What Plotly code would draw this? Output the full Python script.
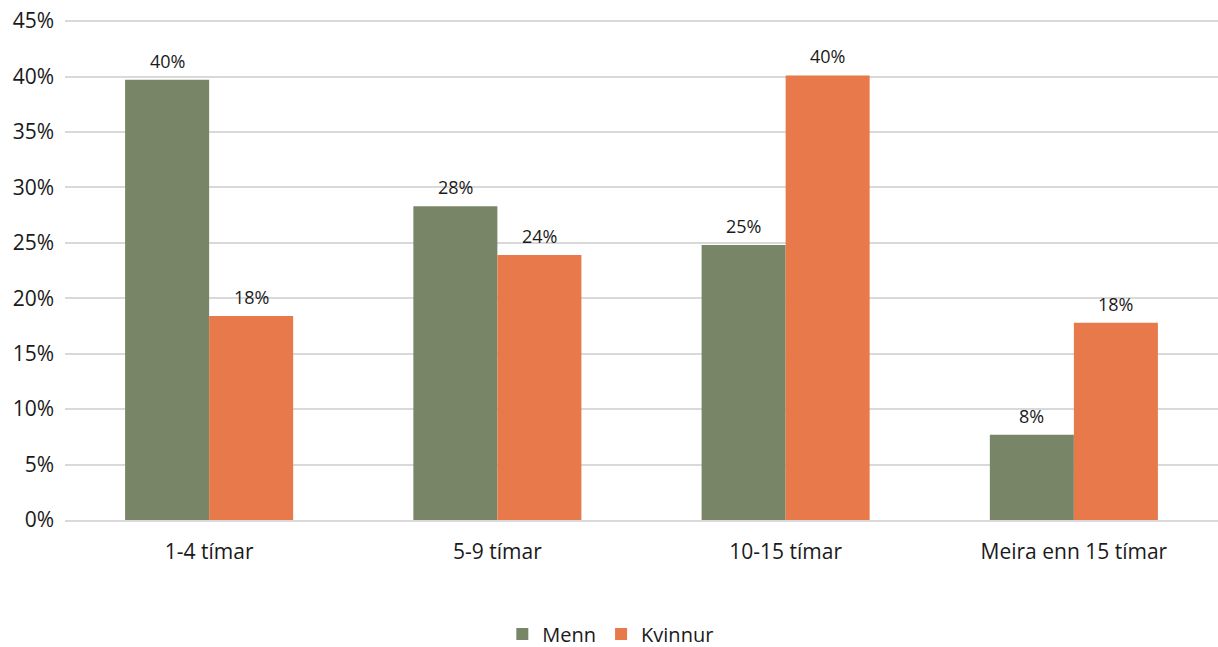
import plotly.graph_objects as go

categories = ["1-4 tímar", "5-9 tímar", "10-15 tímar", "Meira enn 15 tímar"]
menn = [39.7, 28.3, 24.8, 7.7]
kvinnur = [18.4, 23.9, 40.1, 17.8]
menn_labels = ["40%", "28%", "25%", "8%"]
kvinnur_labels = ["18%", "24%", "40%", "18%"]
tick_vals = [0, 5, 10, 15, 20, 25, 30, 35, 40, 45]
tick_text = [f"{v}%" for v in tick_vals]

font_family = "Open Sans, Noto Sans, sans-serif"
text_color = "#1a1a1a"

W, H = 1218, 660
ML, MR, MT, MB = 65, 0, 10, 140
BARGAP = 0.417

fig = go.Figure()
fig.add_trace(go.Bar(name="Menn", x=categories, y=menn, marker_color="#788667",
                     marker_line_width=0))
fig.add_trace(go.Bar(name="Kvinnur", x=categories, y=kvinnur, marker_color="#E8794A",
                     marker_line_width=0))

# data labels placed above each bar (half a bar width left/right of the category centre)
cat_w = (W - ML - MR) / len(categories)
half_bar = cat_w * (1 - BARGAP) / 4
for series, labels, sign in ((menn, menn_labels, -1), (kvinnur, kvinnur_labels, 1)):
    for cat, val, lab in zip(categories, series, labels):
        fig.add_annotation(x=cat, y=val, text=lab, showarrow=False,
                           xshift=sign * half_bar, yshift=5, yanchor="bottom",
                           font=dict(size=18, color=text_color))

fig.update_layout(
    width=W, height=H,
    margin=dict(l=ML, r=MR, t=MT, b=MB, autoexpand=False),
    barmode="group", bargap=BARGAP, bargroupgap=0,
    plot_bgcolor="white", paper_bgcolor="white",
    font=dict(family=font_family, size=21, color=text_color),
    legend=dict(orientation="h", x=0.4734, xanchor="center", y=-0.2235, yanchor="middle",
                font=dict(size=20), traceorder="normal"),
)
fig.update_yaxes(range=[0, 46], tickvals=tick_vals, ticktext=tick_text,
                 showgrid=True, gridcolor="#d9d9d9", gridwidth=2,
                 zeroline=False, showline=False, ticks="", tickfont=dict(size=21),
                 ticklabelstandoff=10, ticklabeloverflow="allow")
fig.update_xaxes(showline=True, linecolor="#d9d9d9", linewidth=2, ticks="",
                 tickfont=dict(size=21), ticklabelstandoff=12)

fig.write_html("out.html", config={"displayModeBar": False},
               post_script="document.body.style.margin='0';")
